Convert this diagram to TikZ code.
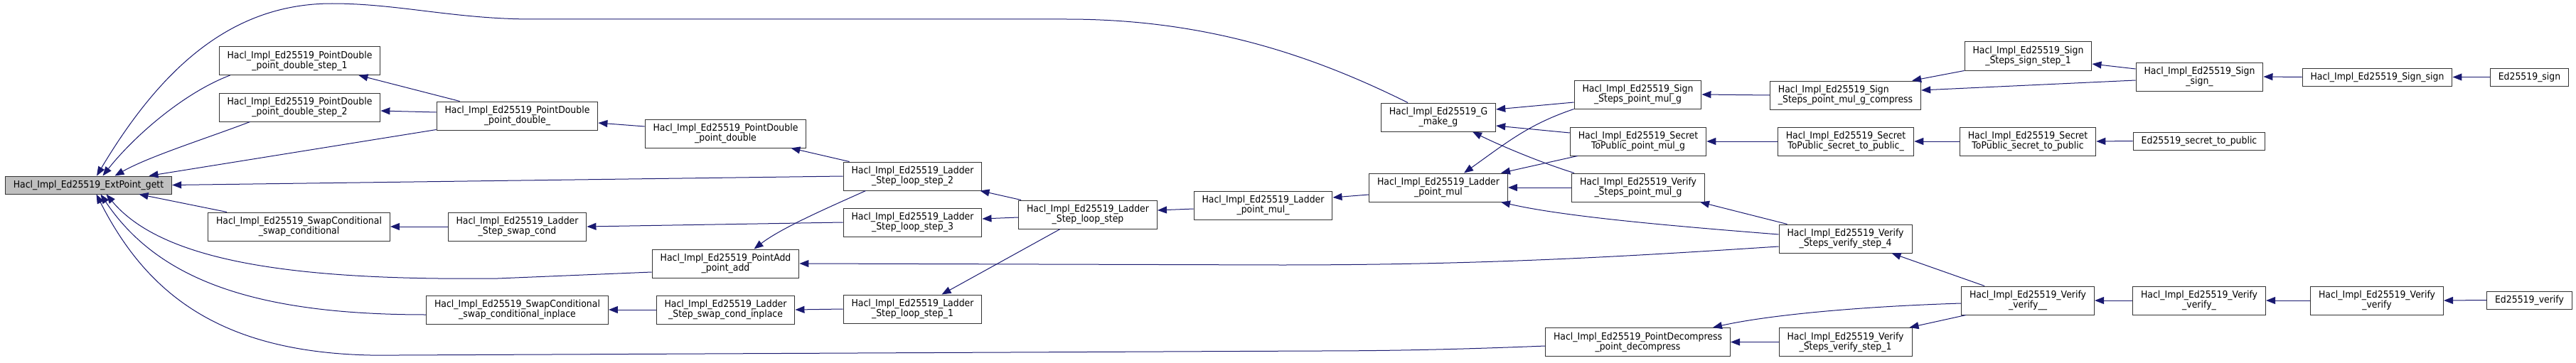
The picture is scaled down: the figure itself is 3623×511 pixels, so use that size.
\documentclass[tikz,border=0pt]{standalone}
\usepackage{fontspec}
\usetikzlibrary{arrows.meta}
\newfontfamily\dxfont{DejaVu Sans}[FakeStretch=0.91]
\definecolor{edgeblue}{HTML}{191970}
\definecolor{boxline}{HTML}{333333}
\definecolor{curgray}{HTML}{BFBFBF}
\begin{document}
\begin{tikzpicture}[x=1pt,y=-1pt,
  fn/.style={draw=boxline,fill=white,line width=1pt,inner xsep=11.5pt,inner ysep=0pt,
    minimum height=40pt,align=center,font=\dxfont\fontsize{13.7}{14}\selectfont},
  fn1/.style={fn,minimum height=25pt},
  cur/.style={fn1,fill=curgray},
  call/.style={draw=edgeblue,line width=1pt,-{Triangle[length=13pt,width=10pt]}}]
\useasboundingbox (0,0) rectangle (3623,511);
\node[cur] (gett) at (124.5,260.5) {Hacl\_Impl\_Ed25519\_ExtPoint\_gett};
\node[fn] (pdsA) at (421.5,85.5) {Hacl\_Impl\_Ed25519\_PointDouble\\\_point\_double\_step\_1};
\node[fn] (pdsB) at (421.5,151) {Hacl\_Impl\_Ed25519\_PointDouble\\\_point\_double\_step\_2};
\node[fn] (swapc) at (420.5,319) {Hacl\_Impl\_Ed25519\_SwapConditional\\\_swap\_conditional};
\node[fn] (pdu) at (727.5,163) {Hacl\_Impl\_Ed25519\_PointDouble\\\_point\_double\_};
\node[fn] (lswap) at (727.5,319) {Hacl\_Impl\_Ed25519\_Ladder\\\_Step\_swap\_cond};
\node[fn] (swapci) at (727.5,436) {Hacl\_Impl\_Ed25519\_SwapConditional\\\_swap\_conditional\_inplace};
\node[fn] (pdd) at (1020.5,188) {Hacl\_Impl\_Ed25519\_PointDouble\\\_point\_double};
\node[fn] (padd) at (1020.5,371) {Hacl\_Impl\_Ed25519\_PointAdd\\\_point\_add};
\node[fn] (lswapi) at (1020.5,436) {Hacl\_Impl\_Ed25519\_Ladder\\\_Step\_swap\_cond\_inplace};
\node[fn] (lsB) at (1283.5,248) {Hacl\_Impl\_Ed25519\_Ladder\\\_Step\_loop\_step\_2};
\node[fn] (lsC) at (1283.5,313) {Hacl\_Impl\_Ed25519\_Ladder\\\_Step\_loop\_step\_3};
\node[fn] (lsA) at (1283.5,435) {Hacl\_Impl\_Ed25519\_Ladder\\\_Step\_loop\_step\_1};
\node[fn] (lstep) at (1530,302) {Hacl\_Impl\_Ed25519\_Ladder\\\_Step\_loop\_step};
\node[fn] (pmulu) at (1776.5,289) {Hacl\_Impl\_Ed25519\_Ladder\\\_point\_mul\_};
\node[fn] (makeg) at (2023,165) {Hacl\_Impl\_Ed25519\_G\\\_make\_g};
\node[fn] (pmul) at (2023,264) {Hacl\_Impl\_Ed25519\_Ladder\\\_point\_mul};
\node[fn] (sgpm) at (2303.5,133) {Hacl\_Impl\_Ed25519\_Sign\\\_Steps\_point\_mul\_g};
\node[fn] (stpm) at (2304,199) {Hacl\_Impl\_Ed25519\_Secret\\ToPublic\_point\_mul\_g};
\node[fn] (vfpm) at (2304,264) {Hacl\_Impl\_Ed25519\_Verify\\\_Steps\_point\_mul\_g};
\node[fn] (dec) at (2303.5,481.5) {Hacl\_Impl\_Ed25519\_PointDecompress\\\_point\_decompress};
\node[fn,align=left] (sgpmc) at (2595.5,134) {Hacl\_Impl\_Ed25519\_Sign\\\_Steps\_point\_mul\_g\_compress};
\node[fn] (stpu) at (2596,199) {Hacl\_Impl\_Ed25519\_Secret\\ToPublic\_secret\_to\_public\_};
\node[fn] (vs4) at (2595.5,336) {Hacl\_Impl\_Ed25519\_Verify\\\_Steps\_verify\_step\_4};
\node[fn] (vs1) at (2595.5,481.5) {Hacl\_Impl\_Ed25519\_Verify\\\_Steps\_verify\_step\_1};
\node[fn] (sgs1) at (2852.5,79) {Hacl\_Impl\_Ed25519\_Sign\\\_Steps\_sign\_step\_1};
\node[fn] (stp) at (2852,199) {Hacl\_Impl\_Ed25519\_Secret\\ToPublic\_secret\_to\_public};
\node[fn] (vfyu) at (2852,423) {Hacl\_Impl\_Ed25519\_Verify\\\_verify\_\_};
\node[fn] (signu) at (3093.5,108) {Hacl\_Impl\_Ed25519\_Sign\\\_sign\_};
\node[fn1] (edstp) at (3093,198.5) {Ed25519\_secret\_to\_public};
\node[fn] (vfyx) at (3093,423) {Hacl\_Impl\_Ed25519\_Verify\\\_verify\_};
\node[fn1] (sign) at (3343.5,108.5) {Hacl\_Impl\_Ed25519\_Sign\_sign};
\node[fn] (vfy) at (3343,423) {Hacl\_Impl\_Ed25519\_Verify\\\_verify};
\node[fn1] (edsign) at (3557.5,108.5) {Ed25519\_sign};
\node[fn1] (edvfy) at (3557.5,422.5) {Ed25519\_verify};
\draw[call] ([xshift=-43pt]makeg.north) .. controls (1850,80) and (1700,27) .. (1500,27) -- (750,27)
  .. controls (640,27) and (560,5) .. (467,5) .. controls (330,5) and (230,90) .. ([xshift=11.5pt]gett.north);
\draw[call] ([xshift=16pt]pdsA.south west) .. controls (260,130) and (190,190) .. ([xshift=20pt]gett.north);
\draw[call] ([xshift=44pt]pdsB.south west) .. controls (290,195) and (210,220) .. ([xshift=37pt]gett.north);
\draw[call] ([yshift=1pt]pdu.south west) -- ([xshift=85pt]gett.north);
\draw[call] (lsB.west) -- (gett.east);
\draw[call] ([xshift=27pt]swapc.north west) -- ([xshift=71pt]gett.south);
\draw[call] ([yshift=-12pt]padd.west) -- (700,392) .. controls (420,395) and (230,370) .. ([xshift=25pt]gett.south);
\draw[call] ([yshift=-7pt]swapci.west) .. controls (350,443) and (220,390) .. ([xshift=17pt]gett.south);
\draw[call] ([yshift=-5.5pt]dec.west) .. controls (2050,492) and (1950,494) .. (1850,494) -- (560,500)
  .. controls (320,505) and (210,420) .. ([xshift=11pt]gett.south);
\draw[call] ([xshift=33pt]pdu.north west) -- ([xshift=-31pt]pdsA.south east);
\draw[call] ([yshift=5pt]pdu.west) -- ([yshift=-5pt]pdsB.east);
\draw[call] ([yshift=10pt]pdd.west) -- ([yshift=-10pt]pdu.east);
\draw[call] ([xshift=9pt]lsB.north west) -- ([xshift=-22pt]pdd.south east);
\draw[call] (lswap.west) -- (swapc.east);
\draw[call] (lsC.west) -- (lswap.east);
\draw[call] ([xshift=32pt]lsB.south west) .. controls (1170,290) and (1100,320) .. ([xshift=40pt]padd.north);
\draw[call] ([yshift=-11pt]vs4.west) .. controls (2300,360) and (2100,373) .. (1800,373) -- (padd.east);
\draw[call] (lswapi.west) -- (swapci.east);
\draw[call] (lsA.west) -- (lswapi.east);
\draw[call] ([xshift=4pt]lstep.north west) -- ([xshift=-3pt]lsB.south east);
\draw[call] ([yshift=-4pt]lstep.west) -- ([yshift=5pt]lsC.east);
\draw[call] ([xshift=-39pt]lstep.south) -- ([xshift=41pt]lsA.north);
\draw[call] ([yshift=-5pt]pmulu.west) -- ([yshift=6pt]lstep.east);
\draw[call] ([yshift=-10pt]pmul.west) -- ([yshift=11pt]pmulu.east);
\draw[call] ([yshift=-11pt]sgpm.west) -- ([yshift=11pt]makeg.east);
\draw[call] ([yshift=12pt]stpm.west) -- ([yshift=-12pt]makeg.east);
\draw[call] ([xshift=4pt]vfpm.north west) .. controls (2170,230) and (2110,205) .. ([xshift=48pt]makeg.south);
\draw[call] (sgpm.south west) .. controls (2150,175) and (2120,200) .. ([xshift=36pt]pmul.north);
\draw[call] ([xshift=11pt]stpm.south west) -- ([xshift=-10pt]pmul.north east);
\draw[call] (vfpm.west) -- (pmul.east);
\draw[call] ([yshift=6pt]vs4.west) .. controls (2350,318) and (2200,305) .. ([xshift=-10pt]pmul.south east);
\draw[call] (sgpmc.west) -- (sgpm.east);
\draw[call] (stpu.west) -- (stpm.east);
\draw[call] ([xshift=12pt]vs4.north west) -- ([xshift=-7pt]vfpm.south east);
\draw[call] (sgs1.south west) -- ([xshift=-13pt]sgpmc.north east);
\draw[call] ([yshift=-5pt]signu.west) -- ([yshift=7pt]sgpmc.east);
\draw[call] ([yshift=11pt]signu.west) -- ([yshift=-11pt]sgs1.east);
\draw[call] (stp.west) -- (stpu.east);
\draw[call] (edstp.west) -- (stp.east);
\draw[call] ([xshift=-61pt]vfyu.north) -- ([xshift=-29pt]vs4.south east);
\draw[call] ([yshift=-4pt]vfyu.west) .. controls (2600,432) and (2480,445) .. ([xshift=-25pt]dec.north east);
\draw[call] ([xshift=7pt]vfyu.south west) -- ([xshift=-4pt]vs1.north east);
\draw[call] (vs1.west) -- (dec.east);
\draw[call] (vfyx.west) -- (vfyu.east);
\draw[call] (vfy.west) -- (vfyx.east);
\draw[call] (edvfy.west) -- (vfy.east);
\draw[call] (sign.west) -- (signu.east);
\draw[call] (edsign.west) -- (sign.east);
\end{tikzpicture}
\end{document}
